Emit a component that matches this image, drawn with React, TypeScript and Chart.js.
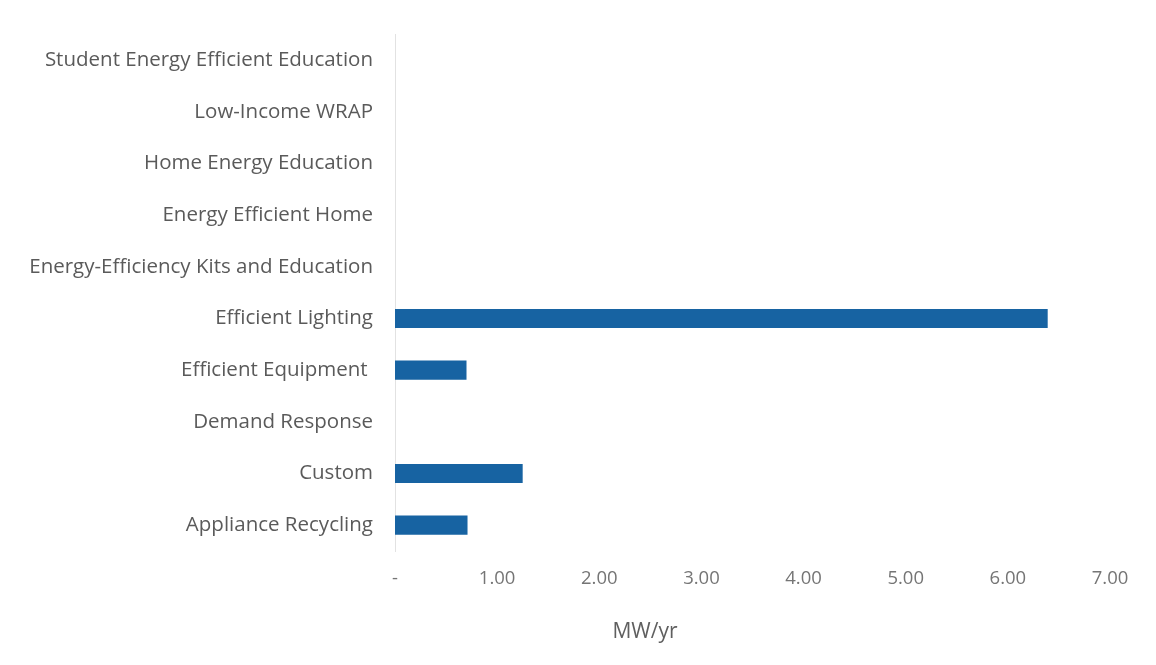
import React, { useEffect, useRef } from "react";
import { Chart, registerables } from "chart.js";

Chart.register(...registerables);

const categories = [
  "Student Energy Efficient Education",
  "Low-Income WRAP",
  "Home Energy Education",
  "Energy Efficient Home",
  "Energy-Efficiency Kits and Education",
  "Efficient Lighting",
  "Efficient Equipment ",
  "Demand Response",
  "Custom",
  "Appliance Recycling",
];

const mwPerYear = [0, 0, 0, 0, 0, 6.39, 0.7, 0, 1.25, 0.71];

const axisTitle = "MW/yr";
const xMin = 0;
const xMax = 7;
const xStep = 1;

const FONT = "'Open Sans', 'Noto Sans', sans-serif";

export default function App() {
  const ref = useRef<HTMLCanvasElement | null>(null);

  useEffect(() => {
    document.body.style.margin = "0";
    const canvas = ref.current;
    if (!canvas) return;

    const titlePlugin = {
      id: "axisTitleOffset",
      afterDraw(chart: any) {
        const ctx = chart.ctx;
        ctx.save();
        ctx.font = `21px ${FONT}`;
        ctx.fillStyle = "#5f5f5f";
        ctx.textAlign = "center";
        ctx.textBaseline = "middle";
        ctx.fillText(axisTitle, 645, 632);
        ctx.restore();
      },
    };

    const chart = new Chart(canvas, {
      type: "bar",
      data: {
        labels: categories,
        datasets: [
          {
            data: mwPerYear,
            backgroundColor: "#1763a2",
            categoryPercentage: 1,
            barPercentage: 0.37,
          },
        ],
      },
      options: {
        indexAxis: "y",
        animation: false,
        responsive: false,
        layout: { padding: { top: 30, right: 46, left: 0, bottom: 0 } },
        plugins: {
          legend: { display: false },
          tooltip: { enabled: false },
        },
        scales: {
          x: {
            min: xMin,
            max: xMax,
            grid: { display: false, drawTicks: false },
            border: { display: false },
            ticks: {
              stepSize: xStep,
              padding: 17,
              color: "#757575",
              font: { family: FONT, size: 18.5 },
              callback: (v: any) => (Number(v) === 0 ? "-" : Number(v).toFixed(2)),
            },
            afterFit: (s: any) => {
              s.height = 114;
            },
          },
          y: {
            grid: { display: false, drawTicks: false },
            border: { display: true, color: "#e2e2e2", width: 1 },
            ticks: {
              padding: 22,
              color: "#5a5a5a",
              font: { family: FONT, size: 20.5 },
            },
            afterFit: (s: any) => {
              s.width = 395;
            },
          },
        },
      },
      plugins: [titlePlugin],
    } as any);

    return () => chart.destroy();
  }, []);

  return (
    <div style={{ position: "absolute", left: 0, top: 0, width: 1156, height: 665, background: "#fff" }}>
      <canvas ref={ref} width={1156} height={665} style={{ display: "block" }} />
    </div>
  );
}
